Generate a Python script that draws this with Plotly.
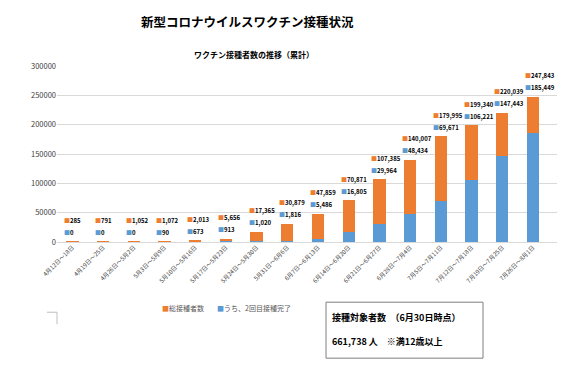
import plotly.graph_objects as go

categories = [
    "4月12日～18日", "4月19日～25日", "4月26日～5月2日", "5月3日～5月9日",
    "5月10日～5月16日", "5月17日～5月23日", "5月24日～5月30日", "5月31日～6月6日",
    "6月7日～6月13日", "6月14日～6月20日", "6月21日～6月27日", "6月28日～7月4日",
    "7月5日～7月11日", "7月12日～7月18日", "7月19日～7月25日", "7月26日～8月1日",
]
total_vaccinated = [285, 791, 1052, 1072, 2013, 5656, 17365, 30879, 47859, 70871,
                    107385, 140007, 179995, 199340, 220039, 247843]
second_dose_done = [0, 0, 0, 90, 673, 913, 1020, 1816, 5486, 16805,
                    29964, 48434, 69671, 106221, 147443, 185449]
y_ticks = [0, 50000, 100000, 150000, 200000, 250000, 300000]

ORANGE = "#ED7D31"
BLUE = "#5B9BD5"
FONT = "Noto Sans CJK JP"
NAME_TOTAL = "総接種者数"
NAME_SECOND = "うち、2回目接種完了"

first_only = [t - s for t, s in zip(total_vaccinated, second_dose_done)]

fig = go.Figure()
fig.add_trace(go.Bar(x=categories, y=second_dose_done, name=NAME_SECOND,
                     marker=dict(color=BLUE, line=dict(width=0)), showlegend=False))
fig.add_trace(go.Bar(x=categories, y=first_only, name=NAME_TOTAL,
                     marker=dict(color=ORANGE, line=dict(width=0)), showlegend=False))

annotations = []
for c, t, s in zip(categories, total_vaccinated, second_dose_done):
    annotations.append(dict(
        x=c, y=t, xref="x", yref="y", xanchor="left", yanchor="middle",
        xshift=-10, yshift=21, showarrow=False,
        text=f"<span style='color:{ORANGE}'>■</span><b>{t:,}</b>",
        font=dict(family=FONT, size=6, color="#000000")))
    annotations.append(dict(
        x=c, y=t, xref="x", yref="y", xanchor="left", yanchor="middle",
        xshift=-10, yshift=9, showarrow=False,
        text=f"<span style='color:{BLUE}'>■</span><b>{s:,}</b>",
        font=dict(family=FONT, size=6, color="#000000")))

# legend (drawn as text with coloured squares)
annotations.append(dict(
    x=0.206, y=-0.376, xref="paper", yref="paper", showarrow=False,
    xanchor="left", yanchor="middle",
    text=f"<span style='color:{ORANGE}'>■</span>{NAME_TOTAL}",
    font=dict(family=FONT, size=7, color="#595959")))
annotations.append(dict(
    x=0.316, y=-0.376, xref="paper", yref="paper", showarrow=False,
    xanchor="left", yanchor="middle",
    text=f"<span style='color:{BLUE}'>■</span>{NAME_SECOND}",
    font=dict(family=FONT, size=7, color="#595959")))

# subtitle
annotations.append(dict(
    x=0.394, y=1.065, xref="paper", yref="paper", showarrow=False,
    xanchor="center", yanchor="middle",
    text="<b>ワクチン接種者数の推移（累計）</b>",
    font=dict(family=FONT, size=8, color="#000000")))

# info box text
annotations.append(dict(
    x=0.546, y=-0.43, xref="paper", yref="paper", showarrow=False,
    xanchor="left", yanchor="middle",
    text="<b>接種対象者数　（6月30日時点）</b>",
    font=dict(family=FONT, size=9, color="#000000")))
annotations.append(dict(
    x=0.546, y=-0.565, xref="paper", yref="paper", showarrow=False,
    xanchor="left", yanchor="middle",
    text="<b>661,738 人　※満12歳以上</b>",
    font=dict(family=FONT, size=9, color="#000000")))

shapes = [
    dict(type="rect", xref="paper", yref="paper", x0=0.538, x1=0.852, y0=-0.66, y1=-0.342,
         line=dict(color="#7F7F7F", width=1), fillcolor="rgba(0,0,0,0)"),
    dict(type="line", xref="paper", yref="paper", x0=-0.02, x1=0.0, y0=-0.399, y1=-0.399,
         line=dict(color="#BFBFBF", width=1)),
    dict(type="line", xref="paper", yref="paper", x0=0.0, x1=0.0, y0=-0.399, y1=-0.467,
         line=dict(color="#BFBFBF", width=1)),
]

fig.update_layout(
    width=567, height=366,
    margin=dict(l=57, r=10, t=65.5, b=124.3),
    paper_bgcolor="white", plot_bgcolor="white",
    barmode="stack", bargap=0.6,
    title=dict(text="<b>新型コロナウイルスワクチン接種状況</b>",
               x=0.436, xref="container", xanchor="center",
               y=1 - 22.7 / 366, yref="container", yanchor="middle",
               font=dict(family=FONT, size=12.5, color="#000000")),
    font=dict(family=FONT, color="#595959"),
    showlegend=False,
    annotations=annotations,
    shapes=shapes,
)
fig.update_xaxes(type="category", tickangle=-45, tickfont=dict(size=6, color="#404040"),
                 showgrid=False, showline=False, ticks="", automargin=False)
fig.update_yaxes(range=[0, 300000], tickvals=y_ticks, tickformat="d",
                 tickfont=dict(size=7.5, color="#404040"),
                 showgrid=True, gridcolor="#D9D9D9", gridwidth=1,
                 zeroline=True, zerolinecolor="#D9D9D9", zerolinewidth=1,
                 showline=False, ticks="", automargin=False)

fig.write_html("out.html", config={"displayModeBar": False},
               post_script="document.body.style.margin='0';")
